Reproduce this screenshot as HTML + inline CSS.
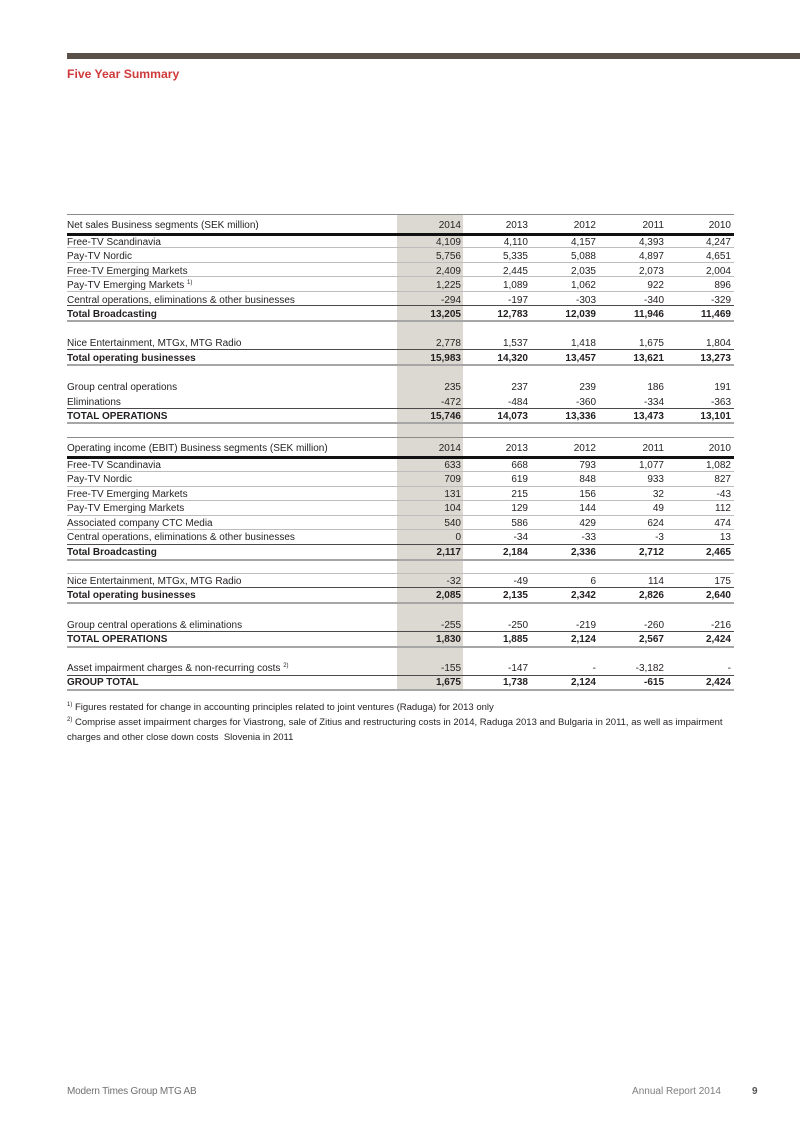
<!DOCTYPE html>
<html>
<head>
<meta charset="utf-8">
<style>
html,body{margin:0;padding:0;background:#fff;}
#pg{position:relative;width:800px;height:1131px;overflow:hidden;background:#fff;font-family:"Liberation Sans",Arial,sans-serif;color:#231f20;}
.bar{position:absolute;left:67px;top:53px;width:733px;height:5.5px;background:#595049;}
.title{position:absolute;left:67px;top:66.5px;font-size:12.2px;line-height:14px;font-weight:bold;color:#cf3a3b;white-space:nowrap;}
.shade{position:absolute;left:397px;top:215px;width:66px;height:475px;background:#dcd9d2;}
.ln{position:absolute;left:67px;width:667px;height:1px;}
.lt{background:#bdbdbd;}
.dk{background:#4a4a4a;}
.gr{background:#a6a6a6;height:2px;}
.tp{background:#8a8a8a;}
.th{background:#111;height:3px;}
.r{position:absolute;left:0;width:800px;height:12px;line-height:12px;font-size:10px;white-space:nowrap;}
.r span{position:absolute;top:0;}
.l{left:67px;}
.c1{right:339px;}
.c2{right:272px;}
.c3{right:204px;}
.c4{right:136px;}
.c5{right:69px;}
.b{font-weight:bold;}
sup{font-size:6px;vertical-align:4px;line-height:0;}
.fn{position:absolute;left:67px;font-size:9.5px;line-height:12px;white-space:nowrap;}
.fn sup{font-size:6px;vertical-align:4px;}
.foot{position:absolute;top:1086px;font-size:10px;line-height:12px;white-space:nowrap;color:#7d7d7d;}
</style>
</head>
<body>
<div id="pg">
<div class="bar"></div>
<div class="title">Five Year Summary</div>

<div class="shade"></div>

<!-- Table 1 lines -->
<div class="ln tp" style="top:214px"></div>
<div class="ln th" style="top:233px"></div>
<div class="ln lt" style="top:247px"></div>
<div class="ln lt" style="top:261.5px"></div>
<div class="ln lt" style="top:276px"></div>
<div class="ln lt" style="top:290.5px"></div>
<div class="ln dk" style="top:305px"></div>
<div class="ln gr" style="top:320px"></div>
<div class="ln dk" style="top:349px"></div>
<div class="ln gr" style="top:364px"></div>
<div class="ln dk" style="top:407.5px"></div>
<div class="ln gr" style="top:422px"></div>

<!-- Table 1 rows -->
<div class="r" style="top:220px"><span class="l">Net sales Business segments (SEK million)</span><span class="c1">2014</span><span class="c2">2013</span><span class="c3">2012</span><span class="c4">2011</span><span class="c5">2010</span></div>
<div class="r" style="top:236.5px"><span class="l">Free-TV Scandinavia</span><span class="c1">4,109</span><span class="c2">4,110</span><span class="c3">4,157</span><span class="c4">4,393</span><span class="c5">4,247</span></div>
<div class="r" style="top:251px"><span class="l">Pay-TV Nordic</span><span class="c1">5,756</span><span class="c2">5,335</span><span class="c3">5,088</span><span class="c4">4,897</span><span class="c5">4,651</span></div>
<div class="r" style="top:265.5px"><span class="l">Free-TV Emerging Markets</span><span class="c1">2,409</span><span class="c2">2,445</span><span class="c3">2,035</span><span class="c4">2,073</span><span class="c5">2,004</span></div>
<div class="r" style="top:280px"><span class="l">Pay-TV Emerging Markets <sup>1)</sup></span><span class="c1">1,225</span><span class="c2">1,089</span><span class="c3">1,062</span><span class="c4">922</span><span class="c5">896</span></div>
<div class="r" style="top:294.5px"><span class="l">Central operations, eliminations &amp; other businesses</span><span class="c1">-294</span><span class="c2">-197</span><span class="c3">-303</span><span class="c4">-340</span><span class="c5">-329</span></div>
<div class="r b" style="top:309px"><span class="l">Total Broadcasting</span><span class="c1">13,205</span><span class="c2">12,783</span><span class="c3">12,039</span><span class="c4">11,946</span><span class="c5">11,469</span></div>

<div class="r" style="top:338px"><span class="l">Nice Entertainment, MTGx, MTG Radio</span><span class="c1">2,778</span><span class="c2">1,537</span><span class="c3">1,418</span><span class="c4">1,675</span><span class="c5">1,804</span></div>
<div class="r b" style="top:352.5px"><span class="l">Total operating businesses</span><span class="c1">15,983</span><span class="c2">14,320</span><span class="c3">13,457</span><span class="c4">13,621</span><span class="c5">13,273</span></div>

<div class="r" style="top:382px"><span class="l">Group central operations</span><span class="c1">235</span><span class="c2">237</span><span class="c3">239</span><span class="c4">186</span><span class="c5">191</span></div>
<div class="r" style="top:396.5px"><span class="l">Eliminations</span><span class="c1">-472</span><span class="c2">-484</span><span class="c3">-360</span><span class="c4">-334</span><span class="c5">-363</span></div>
<div class="r b" style="top:410.5px"><span class="l">TOTAL OPERATIONS</span><span class="c1">15,746</span><span class="c2">14,073</span><span class="c3">13,336</span><span class="c4">13,473</span><span class="c5">13,101</span></div>

<!-- Table 2 lines -->
<div class="ln tp" style="top:436.5px"></div>
<div class="ln th" style="top:456px"></div>
<div class="ln lt" style="top:471px"></div>
<div class="ln lt" style="top:485.5px"></div>
<div class="ln lt" style="top:500px"></div>
<div class="ln lt" style="top:514.5px"></div>
<div class="ln lt" style="top:529px"></div>
<div class="ln dk" style="top:544px"></div>
<div class="ln gr" style="top:558.5px"></div>
<div class="ln lt" style="top:573px"></div>
<div class="ln dk" style="top:587px"></div>
<div class="ln gr" style="top:601.5px"></div>
<div class="ln dk" style="top:631px"></div>
<div class="ln gr" style="top:645.5px"></div>
<div class="ln dk" style="top:674.5px"></div>
<div class="ln gr" style="top:688.5px"></div>

<!-- Table 2 rows -->
<div class="r" style="top:442.5px"><span class="l">Operating income (EBIT) Business segments (SEK million)</span><span class="c1">2014</span><span class="c2">2013</span><span class="c3">2012</span><span class="c4">2011</span><span class="c5">2010</span></div>
<div class="r" style="top:459.5px"><span class="l">Free-TV Scandinavia</span><span class="c1">633</span><span class="c2">668</span><span class="c3">793</span><span class="c4">1,077</span><span class="c5">1,082</span></div>
<div class="r" style="top:474px"><span class="l">Pay-TV Nordic</span><span class="c1">709</span><span class="c2">619</span><span class="c3">848</span><span class="c4">933</span><span class="c5">827</span></div>
<div class="r" style="top:488.5px"><span class="l">Free-TV Emerging Markets</span><span class="c1">131</span><span class="c2">215</span><span class="c3">156</span><span class="c4">32</span><span class="c5">-43</span></div>
<div class="r" style="top:503px"><span class="l">Pay-TV Emerging Markets</span><span class="c1">104</span><span class="c2">129</span><span class="c3">144</span><span class="c4">49</span><span class="c5">112</span></div>
<div class="r" style="top:517.5px"><span class="l">Associated company CTC Media</span><span class="c1">540</span><span class="c2">586</span><span class="c3">429</span><span class="c4">624</span><span class="c5">474</span></div>
<div class="r" style="top:532px"><span class="l">Central operations, eliminations &amp; other businesses</span><span class="c1">0</span><span class="c2">-34</span><span class="c3">-33</span><span class="c4">-3</span><span class="c5">13</span></div>
<div class="r b" style="top:546.5px"><span class="l">Total Broadcasting</span><span class="c1">2,117</span><span class="c2">2,184</span><span class="c3">2,336</span><span class="c4">2,712</span><span class="c5">2,465</span></div>

<div class="r" style="top:575.5px"><span class="l">Nice Entertainment, MTGx, MTG Radio</span><span class="c1">-32</span><span class="c2">-49</span><span class="c3">6</span><span class="c4">114</span><span class="c5">175</span></div>
<div class="r b" style="top:590px"><span class="l">Total operating businesses</span><span class="c1">2,085</span><span class="c2">2,135</span><span class="c3">2,342</span><span class="c4">2,826</span><span class="c5">2,640</span></div>

<div class="r" style="top:619.5px"><span class="l">Group central operations &amp; eliminations</span><span class="c1">-255</span><span class="c2">-250</span><span class="c3">-219</span><span class="c4">-260</span><span class="c5">-216</span></div>
<div class="r b" style="top:634px"><span class="l">TOTAL OPERATIONS</span><span class="c1">1,830</span><span class="c2">1,885</span><span class="c3">2,124</span><span class="c4">2,567</span><span class="c5">2,424</span></div>

<div class="r" style="top:663px"><span class="l">Asset impairment charges &amp; non-recurring costs <sup>2)</sup></span><span class="c1">-155</span><span class="c2">-147</span><span class="c3">-</span><span class="c4">-3,182</span><span class="c5">-</span></div>
<div class="r b" style="top:677px"><span class="l">GROUP TOTAL</span><span class="c1">1,675</span><span class="c2">1,738</span><span class="c3">2,124</span><span class="c4">-615</span><span class="c5">2,424</span></div>

<!-- Footnotes -->
<div class="fn" style="top:702px"><sup>1)</sup> Figures restated for change in accounting principles related to joint ventures (Raduga) for 2013 only</div>
<div class="fn" style="top:717px"><sup>2)</sup> Comprise asset impairment charges for Viastrong, sale of Zitius and restructuring costs in 2014, Raduga 2013 and Bulgaria in 2011, as well as impairment</div>
<div class="fn" style="top:732px">charges and other close down costs&nbsp; Slovenia in 2011</div>

<!-- Footer -->
<div class="foot" style="left:67px;letter-spacing:-0.2px;color:#6f6f6f;">Modern Times Group MTG AB</div>
<div class="foot" style="right:79px;">Annual Report 2014</div>
<div class="foot" style="left:752px;font-weight:bold;color:#555;">9</div>
</div>
</body>
</html>
